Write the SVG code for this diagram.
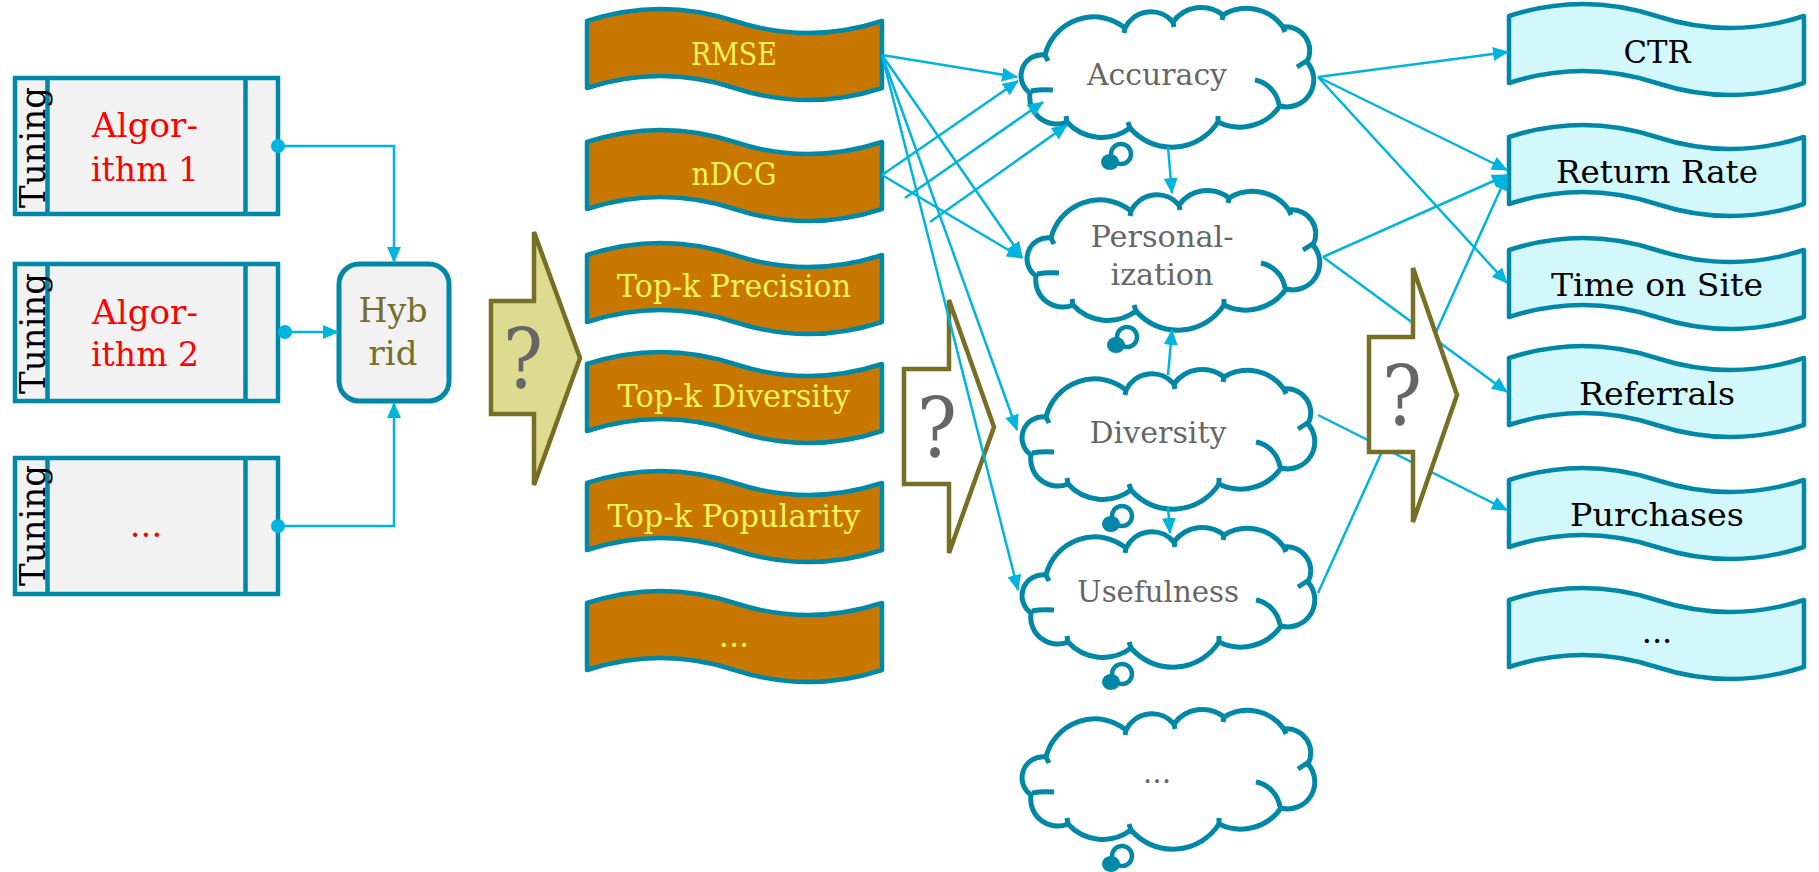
<svg xmlns="http://www.w3.org/2000/svg" width="1819" height="872" viewBox="0 0 1819 872">
<style>
text{font-family:"DejaVu Serif","Liberation Serif",serif;}
.tb{fill:#f2f2f2;stroke:#0088a6;stroke-width:4.5;}
.ln{stroke:#0088a6;stroke-width:4.5;fill:none;}
.alg{fill:#ff0000;font-size:34px;text-anchor:middle;}
.tun{fill:#000;font-size:36px;}
.hyb{fill:#f2f2f2;stroke:#0088a6;stroke-width:5;}
.hybt{fill:#77702a;font-size:34px;text-anchor:middle;}
.ob{fill:#c87700;stroke:#0088a6;stroke-width:4.5;stroke-linejoin:round;}
.obt{fill:#f2f25a;font-size:32px;text-anchor:middle;}
.cb{fill:#d2f8fc;stroke:#0088a6;stroke-width:4.5;stroke-linejoin:round;}
.cbt{fill:#000;font-size:32px;text-anchor:middle;}
.cl{fill:#fff;stroke:#0088a6;stroke-width:5;}
.ci{fill:none;stroke:#0088a6;stroke-width:5;}
.clt{fill:#666;font-size:30px;text-anchor:middle;}
.qa{stroke:#766f25;stroke-width:4.5;stroke-linejoin:miter;}
.q{fill:#666;font-size:82px;text-anchor:middle;}
.cn{fill:none;stroke:#00b4e0;stroke-width:2.5;}
</style>
<defs>
<marker id="ah" markerUnits="userSpaceOnUse" markerWidth="16" markerHeight="14" refX="15" refY="7" orient="auto" viewBox="0 0 16 14"><path d="M0,0 L16,7 L0,14 z" fill="#00b4e0"/></marker>
<marker id="dot" markerUnits="userSpaceOnUse" markerWidth="16" markerHeight="16" refX="8" refY="8" viewBox="0 0 16 16"><circle cx="8" cy="8" r="7" fill="#00b4e0"/></marker>
<path id="banner" d="M0,0 Q73.75,-24 147.5,0 T295,0 L295,67 Q221.25,91 147.5,67 T0,67 Z"/>
<g id="cloud">
<path class="cl" d="M28,50 A50,50 0 0 1 108,23 A29,29 0 0 1 156,17 A35,35 0 0 1 206,10 A45,45 0 0 1 266,22 A24,24 0 0 1 290,57 A27,27 0 0 1 263,101 A49,49 0 0 1 201,117 A55,55 0 0 1 113,123 A47,47 0 0 1 50,117 A27,27 0 0 1 13,88 A21,21 0 0 1 28,50 Z"/>
<path class="ci" d="M14,86 Q24,84 36,85 M238,75 A30,30 0 0 1 262,100 M280,62 L291,55 M28,50 L31,56 M108,23 L107,28 M156,17 L157,22 M206,10 L205,15 M266,22 L268,27 M201,117 L201,111 M113,123 L111,117 M50,117 L49,111"/>
<circle cx="104" cy="149" r="10" fill="none" stroke="#0088a6" stroke-width="4.5"/>
<ellipse cx="93" cy="157" rx="9" ry="8" fill="#0088a6"/>
</g>
</defs>
<rect width="1819" height="872" fill="#fff"/>

<g id="tuning1">
<rect class="tb" x="15" y="78" width="263" height="136"/>
<path class="ln" d="M47.5,78 V214 M245.5,78 V214"/>
<text class="tun" transform="translate(45,208) rotate(-90)" textLength="121" lengthAdjust="spacingAndGlyphs">Tuning</text>
<text class="alg" x="145" y="137" textLength="106" lengthAdjust="spacingAndGlyphs">Algor-</text>
<text class="alg" x="145" y="181" textLength="108" lengthAdjust="spacingAndGlyphs">ithm 1</text>
</g>
<g id="tuning2">
<rect class="tb" x="15" y="264" width="263" height="137"/>
<path class="ln" d="M47.5,264 V401 M245.5,264 V401"/>
<text class="tun" transform="translate(45,394) rotate(-90)" textLength="121" lengthAdjust="spacingAndGlyphs">Tuning</text>
<text class="alg" x="145" y="324" textLength="106" lengthAdjust="spacingAndGlyphs">Algor-</text>
<text class="alg" x="145" y="366" textLength="108" lengthAdjust="spacingAndGlyphs">ithm 2</text>
</g>
<g id="tuning3">
<rect class="tb" x="15" y="458" width="263" height="136"/>
<path class="ln" d="M47.5,458 V594 M245.5,458 V594"/>
<text class="tun" transform="translate(45,586) rotate(-90)" textLength="121" lengthAdjust="spacingAndGlyphs">Tuning</text>
<text class="alg" x="146" y="537">...</text>
</g>
<g id="hybrid">
<rect class="hyb" x="339" y="264" width="110" height="137" rx="20"/>
<text class="hybt" x="393" y="322" textLength="69" lengthAdjust="spacingAndGlyphs">Hyb</text>
<text class="hybt" x="393" y="365" textLength="49" lengthAdjust="spacingAndGlyphs">rid</text>
</g>

<g id="q1">
<polygon class="qa" fill="#dddb8f" points="491,301 534,301 534,232 580,358 534,485 534,414 491,414"/>
<text class="q" x="523" y="388" textLength="40" lengthAdjust="spacingAndGlyphs">?</text>
</g>

<g id="m-rmse"><use href="#banner" class="ob" x="587" y="21"/><text class="obt" x="734" y="65" textLength="86" lengthAdjust="spacingAndGlyphs">RMSE</text></g>
<g id="m-ndcg"><use href="#banner" class="ob" x="587" y="142"/><text class="obt" x="734" y="185" textLength="85" lengthAdjust="spacingAndGlyphs">nDCG</text></g>
<g id="m-prec"><use href="#banner" class="ob" x="587" y="255"/><text class="obt" x="734" y="297" textLength="234" lengthAdjust="spacingAndGlyphs">Top-k Precision</text></g>
<g id="m-div"><use href="#banner" class="ob" x="587" y="364"/><text class="obt" x="734" y="407" textLength="233" lengthAdjust="spacingAndGlyphs">Top-k Diversity</text></g>
<g id="m-pop"><use href="#banner" class="ob" x="587" y="483"/><text class="obt" x="734" y="527" textLength="253" lengthAdjust="spacingAndGlyphs">Top-k Popularity</text></g>
<g id="m-more"><use href="#banner" class="ob" x="587" y="603"/><text class="obt" x="734" y="647">...</text></g>

<g id="q2">
<polygon class="qa" fill="#fff" points="904,369 949,369 949,300 994,427 949,553 949,484 904,484"/>
<text class="q" x="937" y="457" textLength="40" lengthAdjust="spacingAndGlyphs">?</text>
</g>

<g id="c-acc"><use href="#cloud" x="1017" y="5"/><text class="clt" x="1157" y="85" textLength="140" lengthAdjust="spacingAndGlyphs">Accuracy</text></g>
<g id="c-pers"><use href="#cloud" x="1023" y="188"/><text class="clt" x="1162" y="247" textLength="143" lengthAdjust="spacingAndGlyphs">Personal-</text><text class="clt" x="1162" y="285" textLength="103" lengthAdjust="spacingAndGlyphs">ization</text></g>
<g id="c-div"><use href="#cloud" x="1018" y="367"/><text class="clt" x="1158" y="443" textLength="137" lengthAdjust="spacingAndGlyphs">Diversity</text></g>
<g id="c-use"><use href="#cloud" x="1018" y="525"/><text class="clt" x="1158" y="602" textLength="162" lengthAdjust="spacingAndGlyphs">Usefulness</text></g>
<g id="c-more"><use href="#cloud" x="1018" y="707"/><text class="clt" x="1157" y="783">...</text></g>

<g id="k-ctr"><use href="#banner" class="cb" x="1509" y="16"/><text class="cbt" x="1657" y="63" textLength="67" lengthAdjust="spacingAndGlyphs">CTR</text></g>
<g id="k-ret"><use href="#banner" class="cb" x="1509" y="137"/><text class="cbt" x="1657" y="183" textLength="202" lengthAdjust="spacingAndGlyphs">Return Rate</text></g>
<g id="k-time"><use href="#banner" class="cb" x="1509" y="250"/><text class="cbt" x="1657" y="296" textLength="212" lengthAdjust="spacingAndGlyphs">Time on Site</text></g>
<g id="k-ref"><use href="#banner" class="cb" x="1509" y="358"/><text class="cbt" x="1657" y="405" textLength="156" lengthAdjust="spacingAndGlyphs">Referrals</text></g>
<g id="k-pur"><use href="#banner" class="cb" x="1509" y="480"/><text class="cbt" x="1657" y="526" textLength="174" lengthAdjust="spacingAndGlyphs">Purchases</text></g>
<g id="k-more"><use href="#banner" class="cb" x="1509" y="600"/><text class="cbt" x="1657" y="643">...</text></g>

<g id="connectors">
<path class="cn" marker-start="url(#dot)" marker-end="url(#ah)" d="M278,146 H394 V262"/>
<path class="cn" marker-start="url(#dot)" marker-end="url(#ah)" d="M285,332 H338"/>
<path class="cn" marker-start="url(#dot)" marker-end="url(#ah)" d="M278,526 H394 V403"/>
<path class="cn" marker-end="url(#ah)" d="M882,55 L1017,77"/>
<path class="cn" marker-end="url(#ah)" d="M882,175 L1018,81"/>
<path class="cn" marker-end="url(#ah)" d="M905,198 L1043,102"/>
<path class="cn" marker-end="url(#ah)" d="M930,222 L1067,125"/>
<path class="cn" marker-end="url(#ah)" d="M882,55 L1022,257"/>
<path class="cn" marker-end="url(#ah)" d="M882,175 L1022,258"/>
<path class="cn" marker-end="url(#ah)" d="M882,55 L1017,430"/>
<path class="cn" marker-end="url(#ah)" d="M882,55 L1018,590"/>
<path class="cn" marker-end="url(#ah)" d="M1168,147 L1172,193"/>
<path class="cn" marker-end="url(#ah)" d="M1168,375 L1172,330"/>
<path class="cn" marker-end="url(#ah)" d="M1168,507 L1170,533"/>
<path class="cn" marker-end="url(#ah)" d="M1318,77 L1508,52"/>
<path class="cn" marker-end="url(#ah)" d="M1318,77 L1507,170"/>
<path class="cn" marker-end="url(#ah)" d="M1318,77 L1507,283"/>
<path class="cn" marker-end="url(#ah)" d="M1323,257 L1507,175"/>
<path class="cn" marker-end="url(#ah)" d="M1323,257 L1507,392"/>
<path class="cn" marker-end="url(#ah)" d="M1318,415 L1507,510"/>
<path class="cn" marker-end="url(#ah)" d="M1318,593 L1507,175"/>
</g>

<g id="q3">
<polygon class="qa" fill="#fff" points="1369,337 1413,337 1413,268 1457,395 1413,522 1413,452 1369,452"/>
<text class="q" x="1402" y="425" textLength="40" lengthAdjust="spacingAndGlyphs">?</text>
</g>
</svg>
